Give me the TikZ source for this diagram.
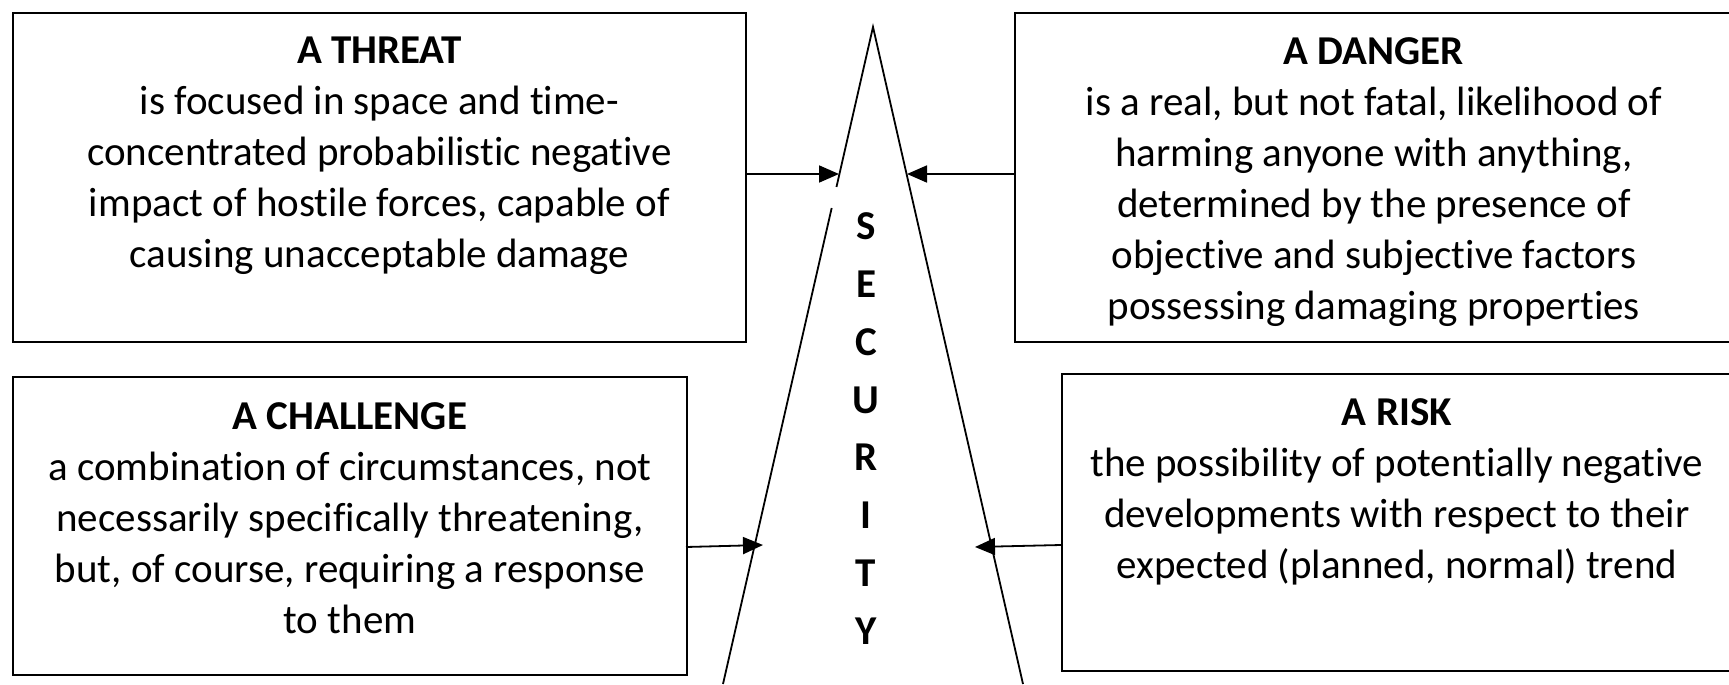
\documentclass[tikz,border=0pt]{standalone}
\usepackage{fontspec}
\setmainfont{Carlito}[Ligatures=NoCommon]
\usetikzlibrary{arrows.meta,calc}
\begin{document}
\begin{tikzpicture}[x=1pt,y=-1pt,
  box/.style={draw, line width=1.8pt, anchor=north west, inner sep=0pt},
  txt/.style={align=center, inner sep=0pt, anchor=north, font=\fontsize{41}{51}\selectfont},
  arr/.style={line width=1.8pt, -{Triangle[length=20pt,width=17pt]}},
  side/.style={line width=1.8pt}]
\useasboundingbox (0,0) rectangle (1729,685);
% boxes
\node[box, minimum width=733pt, minimum height=329pt] (threat) at (12,12) {};
\node[box, minimum width=718pt, minimum height=329pt] (danger) at (1014,12) {};
\node[box, minimum width=674pt, minimum height=298pt] (challenge) at (12,376) {};
\node[box, minimum width=670pt, minimum height=297pt] (risk) at (1061,373) {};
% texts
\node[txt] (threatT) at ([yshift=-25pt]threat.north) {\textbf{A THREAT}\\is focused in space and time-\\concentrated probabilistic negative\\impact of hostile forces, capable of\\causing unacceptable damage};
\node[txt] (dangerT) at ([yshift=-25pt]danger.north) {\textbf{A DANGER}\\is a real, but not fatal, likelihood of\\harming anyone with anything,\\determined by the presence of\\objective and subjective factors\\possessing damaging properties};
\node[txt] (challengeT) at ([yshift=-26pt]challenge.north) {\textbf{A CHALLENGE}\\a combination of circumstances, not\\necessarily specifically threatening,\\but, of course, requiring a response\\to them};
\node[txt] (riskT) at ([yshift=-25pt]risk.north) {\textbf{A RISK}\\the possibility of potentially negative\\developments with respect to their\\expected (planned, normal) trend};
% triangle
\coordinate (apex) at (873,27);
\coordinate (lb) at (723,684);
\coordinate (rb) at (1023,684);
\coordinate (g1) at ($(apex)!0.2435!(lb)$);
\coordinate (g2) at ($(apex)!0.2755!(lb)$);
\draw[side, line join=miter] (g1) -- (apex) -- (rb);
\draw[side] (g2) -- (lb);
% SECURITY
\node[inner sep=0pt, align=center, font=\fontsize{41}{57.8}\selectfont\bfseries] (sec) at (866,428.5) {S\\E\\C\\U\\R\\I\\T\\Y};
% arrow tips
\coordinate (t1) at (839,174);
\coordinate (t2) at (907,174);
\coordinate (t3) at (763,545);
\coordinate (t4) at (975,547);
\coordinate (s3) at (686,547);
\coordinate (s4) at (1061,545);
\draw[arr] (threat.east |- t1) -- (t1);
\draw[arr] (danger.west |- t2) -- (t2);
\draw[arr] (s3) -- (t3);
\draw[arr] (s4) -- (t4);
\end{tikzpicture}
\end{document}
